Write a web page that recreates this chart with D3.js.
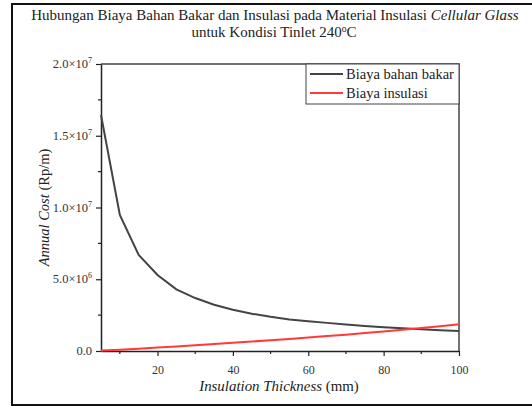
<!DOCTYPE html>
<html>
<head>
<meta charset="utf-8">
<script src="https://cdn.jsdelivr.net/npm/d3@7"></script>
<style>
  body { margin: 0; background: #fff; }
  svg { display: block; }
  svg text { font-family: "Liberation Serif", "Times New Roman", serif; }
</style>
</head>
<body>
<svg id="chart" width="532" height="407"></svg>
<script>
// insulation thickness (mm)
let thickness = [5, 10, 15, 20, 25, 30, 35, 40, 45, 50, 55, 60, 65, 70, 75, 80, 85, 90, 95, 100];
// annual cost, Rp/m
let fuelCost = [16450000, 9480000, 6690000, 5300000, 4300000, 3690000, 3220000, 2880000, 2600000, 2380000,
                2200000, 2080000, 1960000, 1850000, 1750000, 1660000, 1580000, 1510000, 1450000, 1390000];
let insulCost = [30000, 90000, 160000, 240000, 320000, 400000, 480000, 570000, 660000, 750000,
                 840000, 940000, 1040000, 1140000, 1250000, 1360000, 1480000, 1600000, 1730000, 1860000];
let seriesNames = ['Biaya bahan bakar', 'Biaya insulasi'];
let seriesColors = ['#444444', '#ff3a3a'];
let xTicks = [20, 40, 60, 80, 100];
let xMinor = [10, 30, 50, 70, 90];
let yTicks = [0, 5000000, 10000000, 15000000, 20000000];
let yTickLabels = [['0.0', ''], ['5.0×10', '6'], ['1.0×10', '7'], ['1.5×10', '7'], ['2.0×10', '7']];
let yMinor = [2500000, 7500000, 12500000, 17500000];

let svg = d3.select('#chart');

// frame around figure
svg.append('path')
  .attr('d', 'M532,4 H12 V405 H532')
  .attr('fill', 'none')
  .attr('stroke', '#111')
  .attr('stroke-width', 2);

// title
let title = svg.append('text')
  .attr('x', 275).attr('y', 20)
  .attr('text-anchor', 'middle')
  .attr('font-size', 15)
  .attr('fill', '#222');
title.append('tspan').text('Hubungan Biaya Bahan Bakar dan Insulasi pada Material Insulasi ');
title.append('tspan').attr('font-style', 'italic').text('Cellular Glass');
let title2 = svg.append('text')
  .attr('x', 274).attr('y', 37)
  .attr('text-anchor', 'middle')
  .attr('font-size', 15)
  .attr('fill', '#222');
title2.append('tspan').text('untuk Kondisi Tinlet 240');
title2.append('tspan').attr('font-size', 9.5).attr('dy', -5).text('o');
title2.append('tspan').attr('dy', 5).text('C');

let mLeft = 101, mRight = 459, mTop = 64, mBottom = 351;

let x = d3.scaleLinear().domain([5, 100]).range([mLeft, mRight]);
let y = d3.scaleLinear().domain([0, 20000000]).range([mBottom, mTop]);

// top and right border of plot
svg.append('path')
  .attr('d', `M${mLeft},${mTop} H${mRight} V${mBottom}`)
  .attr('fill', 'none')
  .attr('stroke', '#444')
  .attr('stroke-width', 1.5);

// x axis
let xAxis = svg.append('g')
  .attr('transform', `translate(0,${mBottom})`)
  .call(d3.axisBottom(x).tickValues(xTicks).tickSize(5).tickSizeOuter(0).tickFormat(d3.format('d')));
xAxis.select('.domain').attr('stroke', '#222').attr('stroke-width', 1.5);
xAxis.selectAll('.tick line').attr('stroke', '#222').attr('stroke-width', 1.2);
xAxis.selectAll('.tick text')
  .attr('font-size', 12).attr('fill', '#333').attr('y', 23).attr('dy', 0);
xAxis.selectAll('.minor').data(xMinor).enter().append('line')
  .attr('x1', d => x(d)).attr('x2', d => x(d))
  .attr('y1', 0).attr('y2', 3)
  .attr('stroke', '#222').attr('stroke-width', 1.2);

// y axis
let yAxis = svg.append('g')
  .attr('transform', `translate(${mLeft},0)`)
  .call(d3.axisLeft(y).tickValues(yTicks).tickSize(5).tickSizeOuter(0).tickFormat(''));
yAxis.select('.domain').attr('stroke', '#222').attr('stroke-width', 1.5);
yAxis.selectAll('.tick line').attr('stroke', '#222').attr('stroke-width', 1.2);
yAxis.selectAll('.tick text').remove();
yAxis.selectAll('.ylab').data(yTicks).enter().append('text')
  .attr('x', -9).attr('y', d => y(d) + 4)
  .attr('text-anchor', 'end')
  .attr('font-size', 12.5).attr('fill', '#333')
  .each(function(d, i) {
    let t = d3.select(this);
    let lab = yTickLabels[i];
    if (lab[1] === '') { t.text(lab[0]); return; }
    t.append('tspan').text(lab[0]);
    t.append('tspan').attr('font-size', 8).attr('dy', -5).text(lab[1]);
  });
yAxis.selectAll('.minor').data(yMinor).enter().append('line')
  .attr('x1', -3).attr('x2', 0)
  .attr('y1', d => y(d)).attr('y2', d => y(d))
  .attr('stroke', '#222').attr('stroke-width', 1.2);

// axis titles
let xt = svg.append('text')
  .attr('x', 279).attr('y', 391)
  .attr('text-anchor', 'middle')
  .attr('font-size', 14.9).attr('fill', '#222');
xt.append('tspan').attr('font-style', 'italic').text('Insulation Thickness');
xt.append('tspan').text(' (mm)');

let yt = svg.append('text')
  .attr('transform', `translate(49,${(mTop + mBottom) / 2}) rotate(-90)`)
  .attr('text-anchor', 'middle')
  .attr('font-size', 14.5).attr('fill', '#222');
yt.append('tspan').attr('font-style', 'italic').text('Annual Cost');
yt.append('tspan').text(' (Rp/m)');

// lines
let line = d3.line()
  .x((d, i) => x(thickness[i]))
  .y(d => y(d));

[fuelCost, insulCost].forEach((s, k) => {
  svg.append('path')
    .datum(s)
    .attr('d', line)
    .attr('fill', 'none')
    .attr('stroke', seriesColors[k])
    .attr('stroke-width', 2);
});

// legend
let lg = svg.append('g');
lg.append('rect')
  .attr('x', 306).attr('y', mTop)
  .attr('width', mRight - 306).attr('height', 40)
  .attr('fill', '#fff')
  .attr('stroke', '#444').attr('stroke-width', 1);
seriesNames.forEach((n, k) => {
  let ly = mTop + 10 + k * 19;
  lg.append('line')
    .attr('x1', 310).attr('x2', 343)
    .attr('y1', ly).attr('y2', ly)
    .attr('stroke', seriesColors[k]).attr('stroke-width', 2);
  lg.append('text')
    .attr('x', 346).attr('y', ly + 5)
    .attr('font-size', 14.5).attr('fill', '#222')
    .text(n);
});
</script>
</body>
</html>
